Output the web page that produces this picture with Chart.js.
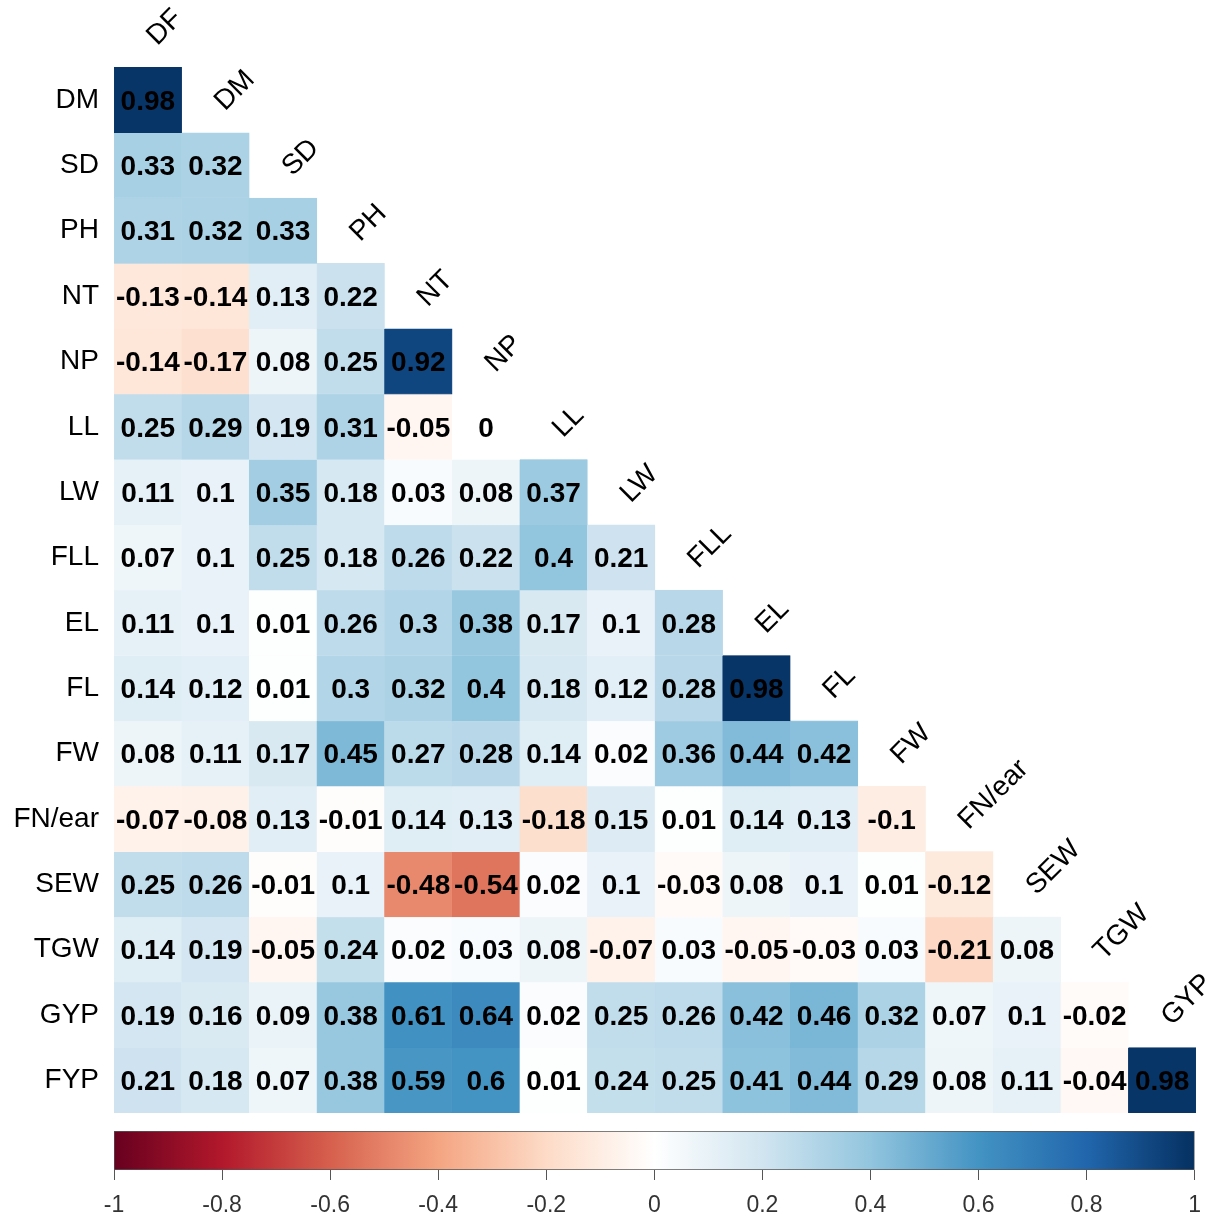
<!DOCTYPE html>
<html>
<head>
<meta charset="utf-8">
<script src="https://cdn.jsdelivr.net/npm/chart.js@4.4.1/dist/chart.umd.min.js"></script>
<style>
  body { margin: 0; background: #fff; }
  canvas { display: block; }
</style>
</head>
<body>
<canvas id="graficoCorrelacao" width="1213" height="1120"></canvas>
<canvas id="graficoEscala" width="1213" height="95"></canvas>
<script>
const colunas = ['DF', 'DM', 'SD', 'PH', 'NT', 'NP', 'LL', 'LW', 'FLL', 'EL', 'FL', 'FW', 'FN/ear', 'SEW', 'TGW', 'GYP'];
const linhas = ['DM', 'SD', 'PH', 'NT', 'NP', 'LL', 'LW', 'FLL', 'EL', 'FL', 'FW', 'FN/ear', 'SEW', 'TGW', 'GYP', 'FYP'];

// lower triangle, one array per row
const rDM = [0.98];
const rSD = [0.33, 0.32];
const rPH = [0.31, 0.32, 0.33];
const rNT = [-0.13, -0.14, 0.13, 0.22];
const rNP = [-0.14, -0.17, 0.08, 0.25, 0.92];
const rLL = [0.25, 0.29, 0.19, 0.31, -0.05, 0];
const rLW = [0.11, 0.1, 0.35, 0.18, 0.03, 0.08, 0.37];
const rFLL = [0.07, 0.1, 0.25, 0.18, 0.26, 0.22, 0.4, 0.21];
const rEL = [0.11, 0.1, 0.01, 0.26, 0.3, 0.38, 0.17, 0.1, 0.28];
const rFL = [0.14, 0.12, 0.01, 0.3, 0.32, 0.4, 0.18, 0.12, 0.28, 0.98];
const rFW = [0.08, 0.11, 0.17, 0.45, 0.27, 0.28, 0.14, 0.02, 0.36, 0.44, 0.42];
const rFNear = [-0.07, -0.08, 0.13, -0.01, 0.14, 0.13, -0.18, 0.15, 0.01, 0.14, 0.13, -0.1];
const rSEW = [0.25, 0.26, -0.01, 0.1, -0.48, -0.54, 0.02, 0.1, -0.03, 0.08, 0.1, 0.01, -0.12];
const rTGW = [0.14, 0.19, -0.05, 0.24, 0.02, 0.03, 0.08, -0.07, 0.03, -0.05, -0.03, 0.03, -0.21, 0.08];
const rGYP = [0.19, 0.16, 0.09, 0.38, 0.61, 0.64, 0.02, 0.25, 0.26, 0.42, 0.46, 0.32, 0.07, 0.1, -0.02];
const rFYP = [0.21, 0.18, 0.07, 0.38, 0.59, 0.6, 0.01, 0.24, 0.25, 0.41, 0.44, 0.29, 0.08, 0.11, -0.04, 0.98];

const matriz = [rDM, rSD, rPH, rNT, rNP, rLL, rLW, rFLL, rEL, rFL, rFW, rFNear, rSEW, rTGW, rGYP, rFYP];

const ticksEscala = [-1, -0.8, -0.6, -0.4, -0.2, 0, 0.2, 0.4, 0.6, 0.8, 1];

// RdBu, from -1 to 1
const paleta = ['#67001F', '#B2182B', '#D6604D', '#F4A582', '#FDDBC7', '#FFFFFF',
                '#D1E5F0', '#92C5DE', '#4393C3', '#2166AC', '#053061'];

function hexParaRgb(hex) {
    return [1, 3, 5].map(k => parseInt(hex.slice(k, k + 2), 16));
}

function corPara(v) {
    const p = (v + 1) / 2 * (paleta.length - 1);
    const k = Math.min(Math.floor(p), paleta.length - 2);
    const t = p - k;
    const a = hexParaRgb(paleta[k]);
    const b = hexParaRgb(paleta[k + 1]);
    const c = a.map((x, n) => Math.round(x + (b[n] - x) * t));
    return `rgb(${c[0]}, ${c[1]}, ${c[2]})`;
}

function gradiente(context) {
    const area = context.chart.chartArea;
    if (!area) return null;
    const g = context.chart.ctx.createLinearGradient(area.left, 0, area.right, 0);
    paleta.forEach((cor, k) => g.addColorStop(k / (paleta.length - 1), cor));
    return g;
}

const fonte = '"Liberation Sans", Arial, sans-serif';

// numbers in the cells plus row and column names
const rotulos = {
    id: 'rotulos',
    afterDatasetsDraw(chart) {
        const {ctx, scales: {x, y}} = chart;
        ctx.save();
        ctx.fillStyle = '#000';
        ctx.textBaseline = 'middle';

        ctx.font = 'bold 28px ' + fonte;
        ctx.textAlign = 'center';
        chart.data.datasets.forEach((ds, d) => {
            chart.getDatasetMeta(d).data.forEach((barra, j) => {
                if (j >= ds.valores.length) return;
                const c = barra.getCenterPoint();
                ctx.fillText(String(ds.valores[j]), c.x, c.y + 2);
            });
        });

        ctx.font = '28px ' + fonte;
        ctx.textAlign = 'right';
        linhas.forEach((nome, i) => {
            ctx.fillText(nome, x.left - 15, y.getPixelForValue(i + 1));
        });

        ctx.textAlign = 'left';
        colunas.forEach((nome, j) => {
            ctx.save();
            ctx.translate(x.getPixelForValue(j) + 4, y.getPixelForValue(j) + 6);
            ctx.rotate(-Math.PI / 4);
            ctx.fillText(nome, 0, 0);
            ctx.restore();
        });
        ctx.restore();
    }
};

//MATRIZ
const conjuntos = matriz.map((valores, k) => {
    const i = k + 1;
    return {
        label: linhas[k],
        data: colunas.map((_, j) => j < valores.length ? [i - 0.5, i + 0.5] : null),
        valores: valores,
        backgroundColor: valores.map(corPara),
        borderColor: valores.map(corPara),
        borderWidth: 0.6,
        borderSkipped: false,
        grouped: false,
        barPercentage: 1,
        categoryPercentage: 1
    };
});

const graficoCorrelacao = document.getElementById('graficoCorrelacao');
new Chart(graficoCorrelacao, {
    type: 'bar',
    data: {
        labels: colunas,
        datasets: conjuntos
    },
    options: {
        responsive: false,
        animation: false,
        layout: { padding: { left: 114, right: 17, top: 2, bottom: 7 } },
        plugins: { legend: { display: false }, tooltip: { enabled: false } },
        scales: {
            x: { type: 'category', display: false },
            y: { type: 'linear', min: -0.5, max: 16.5, reverse: true, display: false }
        }
    },
    plugins: [rotulos]
});

//ESCALA
const graficoEscala = document.getElementById('graficoEscala');
new Chart(graficoEscala, {
    type: 'bar',
    data: {
        labels: [''],
        datasets: [{
            data: [[-1, 1]],
            backgroundColor: gradiente,
            borderColor: '#555',
            borderWidth: 1,
            borderSkipped: false,
            barPercentage: 1,
            categoryPercentage: 1
        }]
    },
    options: {
        indexAxis: 'y',
        responsive: false,
        animation: false,
        layout: { padding: { left: 114, right: 15, top: 11, bottom: 0 } },
        plugins: { legend: { display: false }, tooltip: { enabled: false } },
        scales: {
            y: { display: false },
            x: {
                type: 'linear',
                min: -1,
                max: 1,
                afterBuildTicks: escala => { escala.ticks = ticksEscala.map(v => ({ value: v })); },
                afterFit: escala => { escala.height = 45; },
                border: { display: false },
                grid: { drawOnChartArea: false, tickLength: 10, color: '#555' },
                ticks: {
                    padding: 12,
                    color: '#333',
                    maxRotation: 0,
                    font: { family: fonte, size: 23 },
                    callback: v => String(v)
                }
            }
        }
    }
});
</script>
</body>
</html>
